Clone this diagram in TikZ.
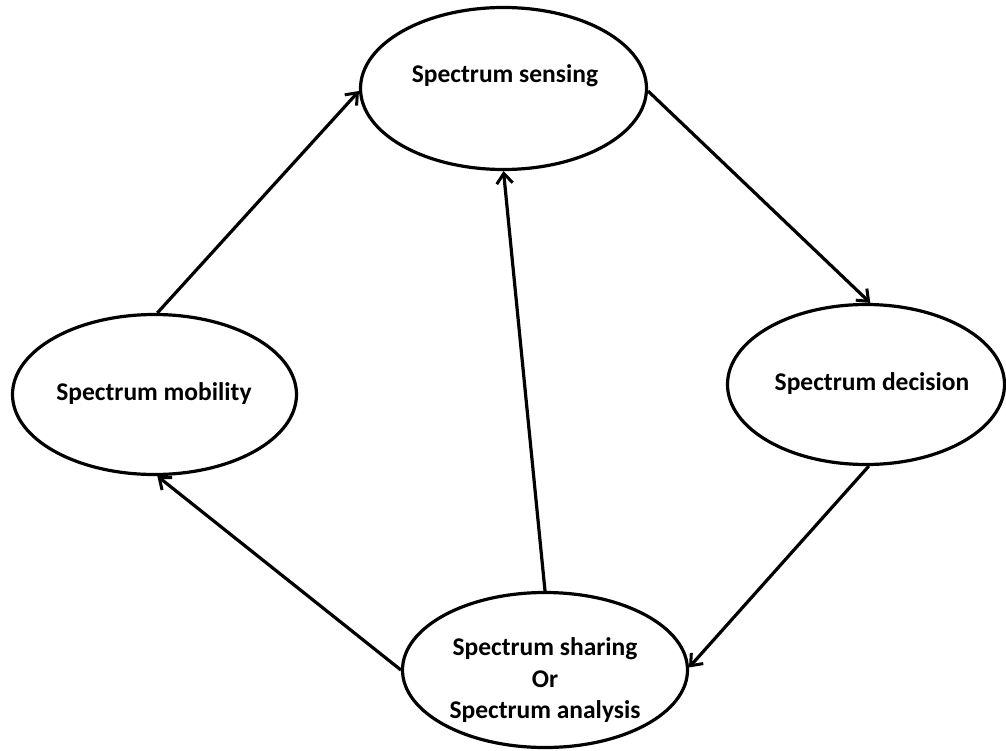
\documentclass[tikz,border=0pt]{standalone}
\usepackage{fontspec}
\setmainfont{Carlito}
\usetikzlibrary{shapes.geometric,arrows.meta}
\begin{document}
\begin{tikzpicture}[x=1pt,y=-1pt,
  stage/.style={ellipse,draw,line width=3.2pt,inner sep=0pt},
  lbl/.style={anchor=base,inner sep=0pt,font=\fontsize{25.5}{31.5}\selectfont\bfseries},
  flow/.style={line width=3.2pt,-{Straight Barb[length=10pt,width=16pt,line width=3pt]}}]
\useasboundingbox (0,0) rectangle (1006,751);
\fill[white] (0,0) rectangle (1006,751);
\node[stage,minimum width=286pt,minimum height=162pt] (sense) at (503.5,88.5) {};
\node[stage,minimum width=277pt,minimum height=160pt] (dec) at (866,384.5) {};
\node[stage,minimum width=284pt,minimum height=160pt] (mob) at (154.5,394.5) {};
\node[stage,minimum width=285pt,minimum height=155pt] (share) at (545,670) {};
\node[lbl] (tsense) at (505,83) {Spectrum sensing};
\node[lbl] (tdec) at (872,390) {Spectrum decision};
\node[lbl] (tmob) at (154,400) {Spectrum mobility};
\node[lbl] (tshare1) at (545,655) {Spectrum sharing};
\node[lbl] (tshare2) at (545,687) {Or};
\node[lbl] (tshare3) at (545,718) {Spectrum analysis};
\draw[flow] (sense.-1) -- (dec.87.2);
\draw[flow] (dec.272.8) -- (share.1.2);
\draw[flow] (share.180) -- (mob.272.4);
\draw[flow] (mob.88.2) -- (sense.181);
\draw[flow] (share.90) -- (sense.270);
\end{tikzpicture}
\end{document}
